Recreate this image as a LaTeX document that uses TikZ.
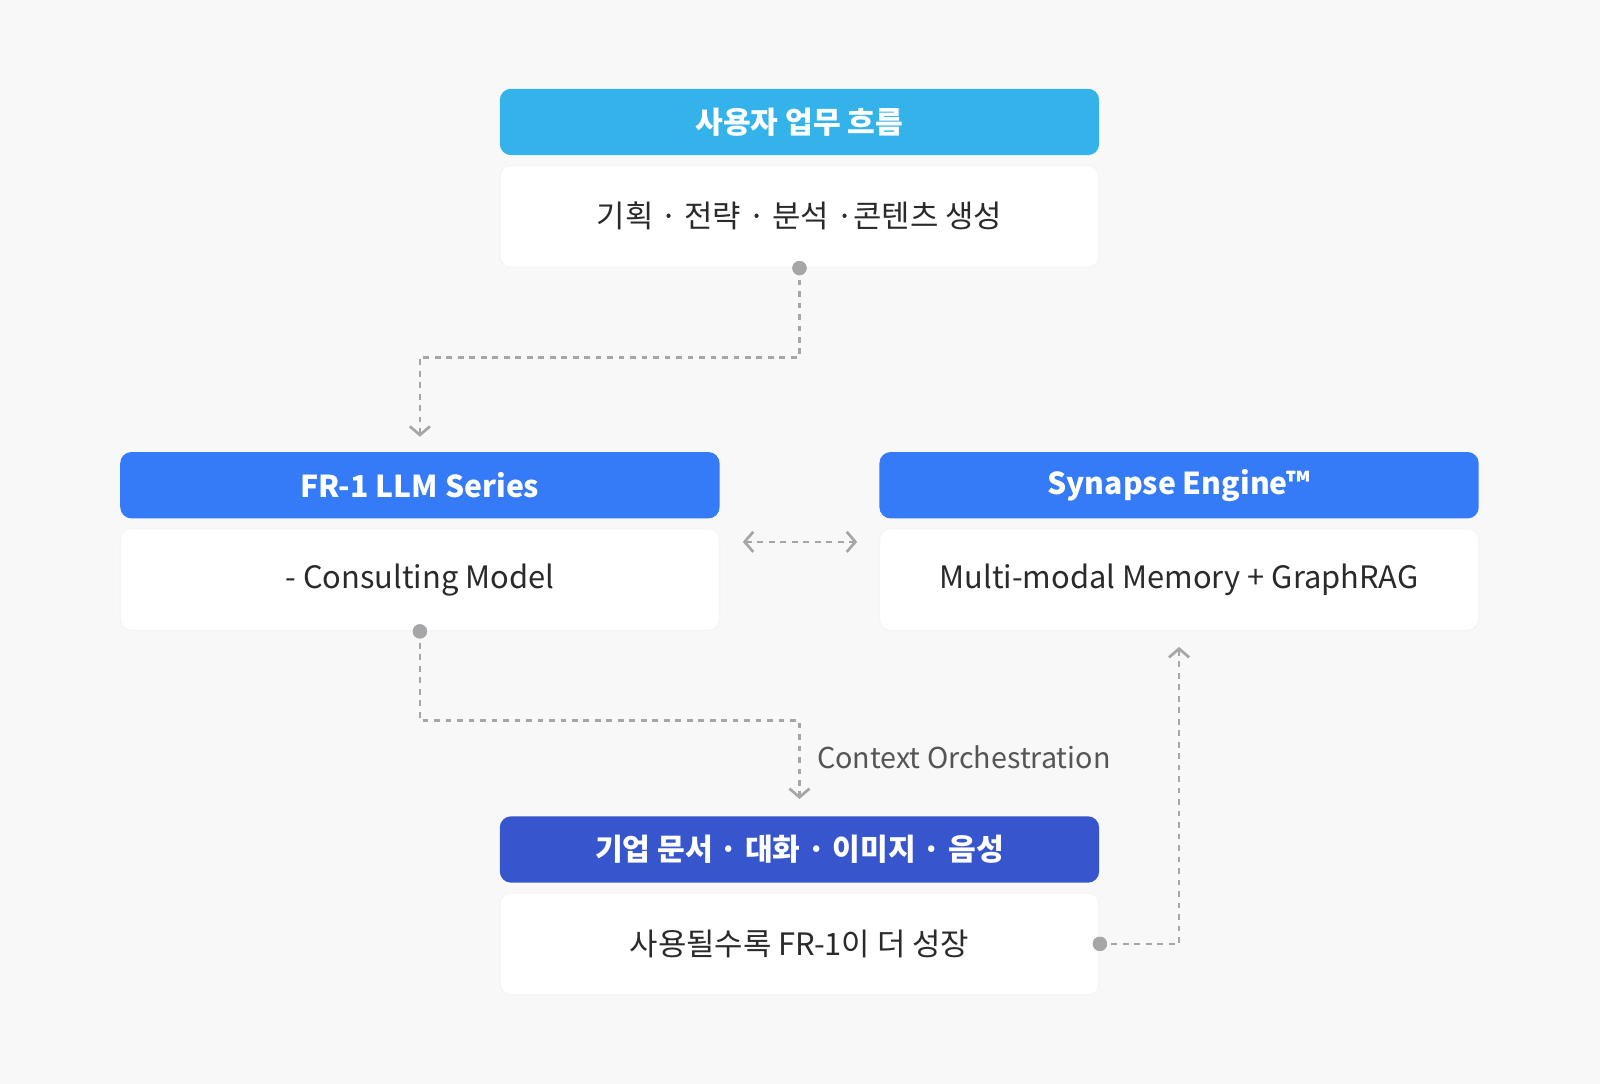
\documentclass[tikz,border=0pt]{standalone}
\usepackage{fontspec}
\setmainfont{Noto Sans CJK KR}
\usetikzlibrary{arrows.meta}
\definecolor{bg}{HTML}{F8F8F8}
\definecolor{cTop}{HTML}{33B3E9}
\definecolor{cMid}{HTML}{357AF6}
\definecolor{cBot}{HTML}{3755CC}
\definecolor{txt}{HTML}{2A2A2A}
\definecolor{ln}{HTML}{A6A6A8}
\definecolor{lbl}{HTML}{555555}
\begin{document}
\begin{tikzpicture}[x=0.01cm,y=-0.01cm,
  hd/.style={rounded corners=0.11cm,minimum width=5.87cm,minimum height=0.65cm,inner sep=0,text=white,font=\fontsize{8.4pt}{10pt}\selectfont\bfseries},
  bd/.style={rounded corners=0.11cm,fill=white,draw=black!4,minimum width=5.87cm,minimum height=1.0cm,inner sep=0,text=txt,font=\fontsize{8.6pt}{10pt}\selectfont},
  con/.style={draw=ln,line width=0.75pt,dash pattern=on 1.6pt off 1.6pt},
  barb/.tip={Straight Barb[length=2.4pt,width=5.6pt,line width=0.75pt]},
  tip/.style={-barb},
  dot/.style={circle,fill=ln,minimum size=0.14cm,inner sep=0}]
\fill[bg] (0,0) rectangle (1568,1062);
\node[hd,fill=cTop] (h1) at (783.5,119.5) {사용자 업무 흐름};
\node[bd] (b1) at (783.5,212) {기획 · 전략 · 분석 ·콘텐츠 생성};
\node[hd,fill=cMid] (h2) at (411.5,475.5) {FR-1 LLM Series};
\node[bd] (b2) at (411.5,568) {- Consulting Model};
\node[hd,fill=cMid] (h3) at (1155.5,475.5) {Synapse Engine™};
\node[bd] (b3) at (1155.5,568) {Multi-modal Memory + GraphRAG};
\node[hd,fill=cBot] (h4) at (783.5,832.5) {기업 문서 · 대화 · 이미지 · 음성};
\node[bd] (b4) at (783.5,925) {사용될수록 FR-1이 더 성장};
\coordinate (t2) at (411.5,428);
\coordinate (t4) at (783.5,783);
\coordinate (t3) at (1155.5,634);
\coordinate (la) at (728,531);
\coordinate (ra) at (840,531);
\node[dot] (d1) at (b1.south) {};
\node[dot] (d2) at (b2.south) {};
\node[dot] (d4) at (b4.east) {};
\draw[con,tip] (d1.center) -- (783.5,350) -- (411.5,350) -- (t2);
\draw[con,tip] (d2.center) -- (411.5,706) -- (783.5,706) -- (t4);
\draw[con,tip] (d4.center) -- (1155.5,925) -- (t3);
\draw[con,barb-barb] (la) -- (ra);
\node[anchor=west,text=lbl,font=\fontsize{8pt}{9pt}\selectfont,inner sep=0] (lab) at (800,742) {Context Orchestration};
\node[dot] at (b1.south) {};
\node[dot] at (b2.south) {};
\node[dot] at (b4.east) {};
\end{tikzpicture}
\end{document}
